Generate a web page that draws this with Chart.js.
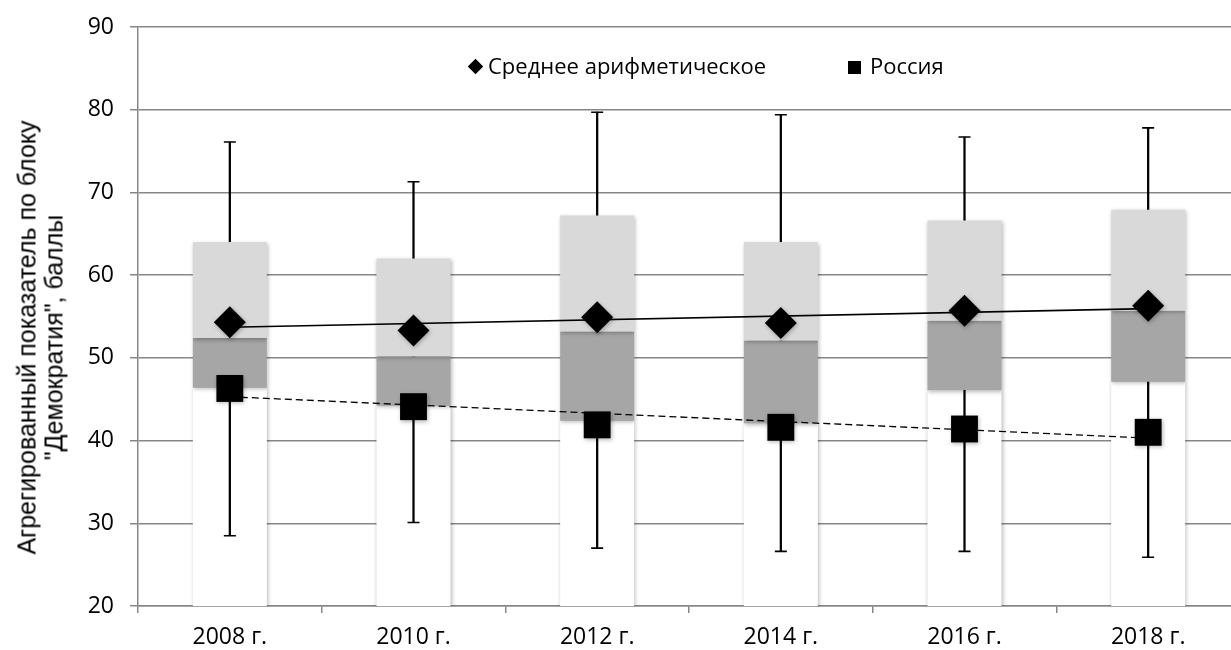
<!DOCTYPE html>
<html lang="ru">
<head>
<meta charset="UTF-8">
<title>Демократия</title>
<script src="https://cdn.jsdelivr.net/npm/chart.js@4.4.1/dist/chart.umd.min.js"></script>
<style>
  html, body { margin: 0; padding: 0; background: #fff; overflow: hidden; }
  .wrap { position: relative; width: 1259px; height: 650px; }
  .legend { position: absolute; top: 54px; font-family: 'Open Sans', sans-serif; font-size: 22px; line-height: 22px; color: #000; white-space: nowrap; }
  .diamond { display: inline-block; width: 11px; height: 11px; background: #000; transform: rotate(45deg); margin: 0 7px 0 3px; vertical-align: 2px; }
  .square { display: inline-block; width: 13px; height: 13px; background: #000; margin-right: 9px; vertical-align: 0; }
  .ytitle { position: absolute; left: -209.7px; top: 310.5px; width: 500px; height: 53px; transform: rotate(-90deg);
            font-family: 'Liberation Sans', Arial, sans-serif; font-size: 25px; line-height: 26.5px; text-align: center; color: #000; white-space: nowrap; }
</style>
</head>
<body>
<div class="wrap">
  <canvas id="chart" width="1259" height="650"></canvas>
  <div class="legend" style="left:467px"><span class="diamond"></span><span id="lg-mean"></span></div>
  <div class="legend" style="left:848px"><span class="square"></span><span id="lg-russia"></span></div>
  <div class="ytitle" id="ytitle"></div>
</div>
<script>
// categories and values
const categories = ['2008 г.', '2010 г.', '2012 г.', '2014 г.', '2016 г.', '2018 г.'];
const minValues    = [28.5, 30.1, 27.0, 26.6, 26.6, 25.9];
const q1Values     = [46.4, 44.2, 42.4, 42.1, 46.1, 47.1];
const medianValues = [52.4, 50.2, 53.2, 52.1, 54.5, 55.7];
const q3Values     = [64.0, 62.0, 67.2, 64.0, 66.6, 67.9];
const maxValues    = [76.1, 71.3, 79.7, 79.4, 76.7, 77.8];
const meanValues   = [54.3, 53.3, 54.9, 54.2, 55.7, 56.3];
const russiaValues = [46.3, 44.1, 41.9, 41.6, 41.4, 41.0];
// trend lines, only the two ends are read
const meanTrend    = [53.7, null, null, null, null, 55.95];
const russiaTrend  = [45.3, null, null, null, null, 40.3];

const meanLabel = 'Среднее арифметическое';
const russiaLabel = 'Россия';
const yTitle = ['Агрегированный показатель по блоку', '"Демократия", баллы'];
const axisMin = 20;
const axisMax = 90;
const axisStep = 10;

document.getElementById('lg-mean').textContent = meanLabel;
document.getElementById('lg-russia').textContent = russiaLabel;
const titleEl = document.getElementById('ytitle');
yTitle.forEach(line => {
  const d = document.createElement('div');
  d.textContent = line;
  titleEl.appendChild(d);
});

const range = (a, b) => a.map((v, i) => [v, b[i]]);

// soft shadow like in the office chart
const shadowPlugin = {
  id: 'softShadow',
  beforeDatasetDraw(chart, args) {
    if (!chart.data.datasets[args.index].shadow) return;
    const ctx = chart.ctx;
    ctx.save();
    ctx.shadowColor = 'rgba(0,0,0,0.28)';
    ctx.shadowBlur = 4;
    ctx.shadowOffsetX = 1;
    ctx.shadowOffsetY = 1.5;
  },
  afterDatasetDraw(chart, args) {
    if (!chart.data.datasets[args.index].shadow) return;
    chart.ctx.restore();
  }
};

const tickFont = { family: 'Open Sans', size: 23 };
const gridColor = '#878787';

new Chart(document.getElementById('chart'), {
  type: 'bar',
  data: {
    labels: categories,
    datasets: [
      {
        type: 'line', label: meanLabel, data: meanValues, showLine: false,
        pointStyle: 'rectRot', pointRadius: 16, pointBackgroundColor: '#000',
        pointBorderWidth: 0, order: 0, shadow: true
      },
      {
        type: 'line', label: russiaLabel, data: russiaValues, showLine: false,
        pointStyle: 'rect', pointRadius: 19, pointBackgroundColor: '#000',
        pointBorderWidth: 0, order: 0, shadow: true
      },
      {
        type: 'line', label: 'trend mean', data: meanTrend, spanGaps: true,
        borderColor: '#000', borderWidth: 1.6, pointRadius: 0, order: 1
      },
      {
        type: 'line', label: 'trend russia', data: russiaTrend, spanGaps: true,
        borderColor: '#000', borderWidth: 1.3, borderDash: [7, 4], pointRadius: 0, order: 1
      },
      {
        label: 'q3', data: range(medianValues, q3Values), backgroundColor: '#d9d9d9',
        grouped: false, order: 2, shadow: true
      },
      {
        label: 'q1', data: range(q1Values, medianValues), backgroundColor: '#a6a6a6',
        grouped: false, order: 2, shadow: true
      },
      {
        type: 'line', label: 'max', data: maxValues, showLine: false,
        pointStyle: 'line', pointRadius: 6, pointBorderColor: '#000', pointBorderWidth: 1.6, order: 3
      },
      {
        type: 'line', label: 'min', data: minValues, showLine: false,
        pointStyle: 'line', pointRadius: 6, pointBorderColor: '#000', pointBorderWidth: 1.6, order: 3
      },
      {
        label: 'whisker', data: range(minValues, maxValues), backgroundColor: '#000',
        barThickness: 1.6, grouped: false, order: 3
      },
      {
        label: 'base', data: range(q1Values.map(() => axisMin), q1Values), backgroundColor: '#fff',
        grouped: false, order: 4, shadow: true
      }
    ]
  },
  options: {
    responsive: false,
    animation: false,
    events: [],
    layout: { padding: { top: 27, left: 0, right: 0, bottom: 0 } },
    datasets: { bar: { categoryPercentage: 1, barPercentage: 0.403 } },
    plugins: { legend: { display: false }, tooltip: { enabled: false } },
    scales: {
      x: {
        ticks: { color: '#000', font: tickFont, padding: 11, maxRotation: 0 },
        grid: { drawOnChartArea: false, color: gridColor, lineWidth: 1.5, tickLength: 7, offset: true },
        border: { color: gridColor, width: 1.5 },
        afterFit(scale) {
          scale.height = 44;
          scale.paddingLeft = 0;
          scale.paddingRight = 0;
        }
      },
      y: {
        min: axisMin, max: axisMax,
        ticks: { stepSize: axisStep, color: '#000', font: tickFont, padding: 16 },
        grid: { color: gridColor, lineWidth: 1.5, tickLength: 8 },
        border: { color: gridColor, width: 1.5 },
        afterFit(scale) {
          scale.width = 138;
          scale.paddingTop = 0;
          scale.paddingBottom = 0;
        }
      }
    }
  },
  plugins: [shadowPlugin]
});
</script>
</body>
</html>
